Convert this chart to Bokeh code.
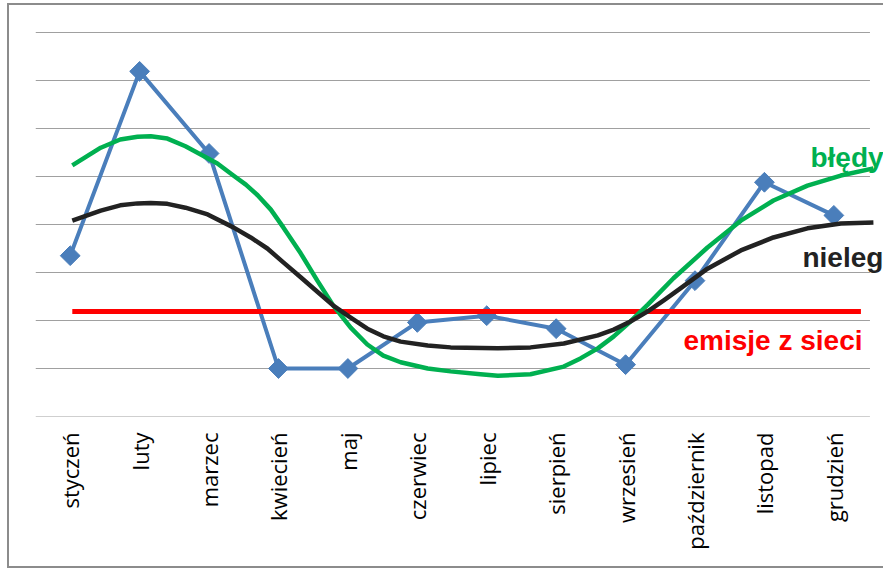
import math
from bokeh.plotting import figure
from bokeh.models import Range1d, FixedTicker, Label, ColumnDataSource
from bokeh.embed import file_html
from bokeh.resources import INLINE

# ---- data (y in grid-line units) ----
months = ["styczeń", "luty", "marzec", "kwiecień", "maj", "czerwiec",
          "lipiec", "sierpień", "wrzesień", "październik", "listopad", "grudzień"]
measured = [3.35, 7.19, 5.48, 1.0, 1.0, 1.96, 2.10, 1.83, 1.08, 2.83, 4.88, 4.19]

grid_levels = [0, 1, 2, 3, 4, 5, 6, 7, 8]

red_x = [0.03, 11.39]
red_y = [2.19, 2.19]

green_x = [0.03, 0.44, 0.72, 0.97, 1.16, 1.40, 1.66, 1.88, 2.12, 2.35, 2.53, 2.70,
           2.89, 3.07, 3.32, 3.56, 3.79, 4.04, 4.28, 4.51, 4.76, 5.15, 5.48, 5.91,
           6.16, 6.63, 7.11, 7.35, 7.60, 7.83, 8.07, 8.32, 8.69, 9.18, 9.66, 10.13,
           10.62, 11.10, 11.57]
green_y = [5.23, 5.60, 5.77, 5.83, 5.84, 5.79, 5.63, 5.46, 5.27, 5.02, 4.83, 4.61,
           4.31, 3.94, 3.40, 2.83, 2.31, 1.85, 1.50, 1.27, 1.13, 1.00, 0.94, 0.88,
           0.85, 0.88, 1.04, 1.21, 1.42, 1.67, 1.98, 2.33, 2.88, 3.52, 4.08, 4.50,
           4.81, 5.02, 5.17]

black_x = [0.03, 0.44, 0.72, 0.97, 1.16, 1.40, 1.66, 1.98, 2.35, 2.60, 2.84, 3.07,
           3.32, 3.56, 3.79, 4.04, 4.28, 4.51, 4.76, 5.15, 5.48, 6.16, 6.63, 7.11,
           7.60, 7.83, 8.07, 8.32, 8.55, 8.79, 9.18, 9.66, 10.13, 10.62, 11.10, 11.57]
black_y = [4.08, 4.29, 4.40, 4.44, 4.45, 4.43, 4.35, 4.21, 3.94, 3.73, 3.50, 3.21,
           2.90, 2.60, 2.31, 2.06, 1.83, 1.67, 1.56, 1.48, 1.44, 1.42, 1.44, 1.52,
           1.69, 1.81, 1.98, 2.19, 2.42, 2.67, 3.08, 3.46, 3.73, 3.92, 4.02, 4.04]

label_green = "błędy"
label_black = "nieleg"
label_red = "emisje z sieci"

GRID = "#a0a0a0"
BLUE = "#4a7ebb"
GREEN = "#00b050"
DARK = "#222222"
RED = "#ff0000"

# ---- figure ----
p = figure(width=876, height=565, output_backend="svg", toolbar_location=None,
           x_range=Range1d(-0.5, 11.744), y_range=Range1d(0, 8.25),
           min_border_left=26, min_border_right=0, min_border_top=15,
           min_border_bottom=154)
p.styles = {"margin-left": "7px", "margin-top": "3px",
            "border-left": "2px solid #8c8c8c", "border-top": "2px solid #8c8c8c",
            "border-bottom": "2px solid #8c8c8c"}
p.outline_line_color = None
p.background_fill_color = "white"
p.border_fill_color = "white"

p.yaxis.visible = False
p.xgrid.visible = False
p.ygrid.visible = False

# horizontal grid lines spanning the category area
p.segment(x0=[-0.5] * len(grid_levels), x1=[11.52] * len(grid_levels),
          y0=grid_levels, y1=grid_levels, line_color=GRID, line_width=1.2)

ax = p.xaxis[0]
ax.ticker = FixedTicker(ticks=list(range(len(months))))
ax.major_label_overrides = {i: m for i, m in enumerate(months)}
ax.major_label_orientation = math.pi / 2
ax.major_tick_line_color = None
ax.minor_tick_line_color = None
ax.major_tick_out = 0
ax.major_tick_in = 0
ax.major_label_standoff = 16
ax.axis_line_color = None
ax.major_label_text_font = "Open Sans"
ax.major_label_text_font_size = "22px"
ax.major_label_text_color = "#000000"

src = ColumnDataSource(dict(x=list(range(len(months))), y=measured))
p.line("x", "y", source=src, line_color=BLUE, line_width=4)
p.scatter("x", "y", source=src, marker="square", angle=math.pi / 4, size=14,
          fill_color=BLUE, line_color=BLUE)

p.line(red_x, red_y, line_color=RED, line_width=5)
p.line(green_x, green_y, line_color=GREEN, line_width=4.5, line_join="round")
p.line(black_x, black_y, line_color=DARK, line_width=4.5, line_join="round")

for txt, x, y, col in [(label_green, 10.663, 5.40, GREEN),
                       (label_black, 10.548, 3.31, DARK),
                       (label_red, 8.834, 1.58, RED)]:
    p.add_layout(Label(x=x, y=y, text=txt, text_color=col,
                       text_font="Liberation Sans", text_font_style="bold",
                       text_font_size="28px", text_baseline="alphabetic",
                       text_align="left"))

open("out.html", "w").write(file_html(p, INLINE))
